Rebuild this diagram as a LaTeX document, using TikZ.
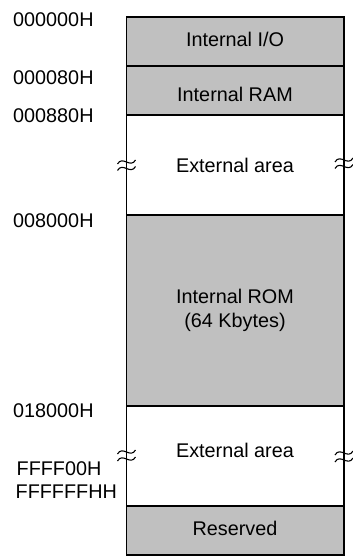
\documentclass[tikz,border=0pt]{standalone}
\usepackage{fontspec}
\setmainfont{Liberation Sans}
\begin{document}
\begin{tikzpicture}[x=1pt,y=-1pt,
  area/.style={draw=black,line width=1.2pt},
  rom/.style={area,fill=gray75},
  lbl/.style={font=\fontsize{19.8}{23}\selectfont,anchor=base,inner sep=0pt},
  addr/.style={font=\fontsize{19.8}{23}\selectfont,anchor=base west,inner sep=0pt},
  brk/.style={line width=1.1pt}]
\definecolor{gray75}{RGB}{192,192,192}
\useasboundingbox (0,0) rectangle (353,559);
% regions
\path[rom] (126.5,17) rectangle (344,66);
\path[rom] (126.5,66) rectangle (344,115);
\draw[line width=1.2pt] (126.5,115) -- (126.5,215);
\draw[line width=1.2pt] (344,115) -- (344,215);
\path[rom] (126.5,215) rectangle (344,406);
\draw[line width=1.2pt] (126.5,406) -- (126.5,506);
\draw[line width=1.2pt] (344,406) -- (344,506);
\path[rom] (126.5,506) rectangle (344,555);
% break marks
\foreach \bx/\by in {126.5/162, 126.5/168.5, 344/160, 344/166.5, 126.5/452, 126.5/459, 344/453, 344/460}{
  \draw[brk] (\bx-9,\by+2) .. controls (\bx-4,\by-7) and (\bx+4,\by+7) .. (\bx+9,\by-2);
}
% region labels
\node[lbl] (io) at (235,47) {Internal I/O};
\node[lbl] (ram) at (235,102) {Internal RAM};
\node[lbl] (ext1) at (235,172) {External area};
\node[lbl] (rom1) at (235,303) {Internal ROM};
\node[lbl] (rom2) at (235,327) {(64 Kbytes)};
\node[lbl] (ext2) at (235,457) {External area};
\node[lbl] (res) at (235,535) {Reserved};
% addresses
\node[addr] (a0) at (13,27) {000000H};
\node[addr] (a1) at (13,85) {000080H};
\node[addr] (a2) at (13,122) {000880H};
\node[addr] (a3) at (13,227) {008000H};
\node[addr] (a4) at (13,417) {018000H};
\node[addr] (a5) at (16.5,475) {FFFF00H};
\node[addr] (a6) at (15.5,498) {FFFFFFHH};
\end{tikzpicture}
\end{document}
